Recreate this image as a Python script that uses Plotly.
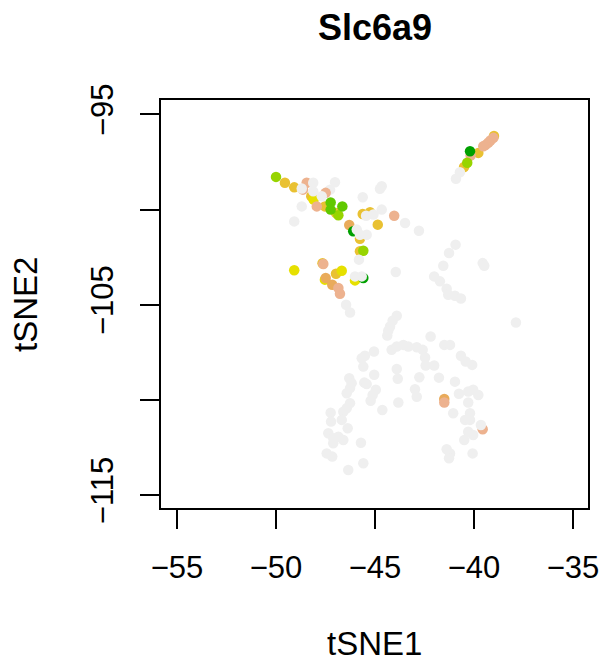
import plotly.graph_objects as go

# ---- data (tSNE coordinates, grouped by expression colour level) ----
gray_bg_x = [-43.48, -42.78, -40.93, -41.26, -41.55, -39.56, -39.48, -43.95, -42.01, -41.72,
             -41.38, -41.30, -40.96, -40.66, -37.88, -46.46, -46.26, -43.90, -44.11, -44.24,
             -44.33, -44.38, -42.19, -41.50, -41.21, -44.16, -43.90, -43.57, -43.32, -42.89,
             -42.59, -45.05, -45.67, -45.51, -45.59, -42.47, -42.44, -42.01, -40.66, -40.42,
             -40.09, -43.90, -43.85, -42.76, -41.77, -45.04, -46.30, -46.18, -45.54, -45.42,
             -40.96, -44.96, -45.12, -45.22, -42.98, -42.89, -43.82, -46.43, -46.26, -46.26,
             -46.43, -46.60, -46.68, -47.24, -47.22, -44.63, -46.38, -47.36, -47.11, -46.85,
             -46.60, -47.11, -45.71, -47.44, -47.16, -45.59, -46.35, -40.76, -40.29, -40.04,
             -39.78, -40.29, -40.20, -40.45, -40.20, -41.05, -40.29, -40.04, -40.49, -41.38,
             -41.21, -41.26, -40.07,
             -47.02, -47.27, -48.70, -49.08, -45.62, -44.66, -44.75, -44.66]
gray_bg_y = [-100.70, -101.11, -101.84, -102.28, -102.95, -102.81, -102.95, -103.28, -103.51, -103.77,
             -104.16, -104.47, -104.53, -104.67, -105.93, -105.00, -105.41, -105.58, -105.84, -106.14,
             -106.37, -106.62, -106.67, -107.11, -107.11, -107.37, -107.19, -107.11, -107.19, -107.23,
             -107.37, -107.46, -107.81, -107.68, -108.25, -107.77, -108.19, -108.19, -107.68, -107.98,
             -108.16, -108.38, -108.89, -108.81, -108.83, -108.68, -108.86, -109.12, -109.09, -109.17,
             -109.04, -109.47, -109.74, -110.04, -109.44, -109.83, -110.14, -109.65, -109.38, -110.17,
             -110.44, -110.62, -111.05, -110.67, -111.14, -110.53, -111.49, -111.75, -112.02, -111.93,
             -112.11, -112.28, -112.25, -112.81, -112.98, -113.33, -113.68, -109.68, -109.56, -109.47,
             -109.74, -110.14, -110.70, -111.05, -111.05, -110.70, -111.67, -111.84, -112.11, -112.59,
             -112.81, -113.07, -112.81,
             -98.56, -98.95, -99.83, -100.62, -99.35, -98.77, -98.91, -100.00]

gold_x = [-49.55, -49.08, -48.22, -47.53, -46.97, -45.62, -45.25, -44.86, -45.76, -45.76,
          -47.65, -46.97, -38.99, -39.78, -40.50]
gold_y = [-98.59, -98.83, -99.30, -99.83, -100.18, -100.23, -100.14, -100.79, -101.53, -102.19,
          -102.82, -103.37, -96.13, -97.02, -97.76]

yellow_x = [-48.10, -49.08, -46.68, -47.53, -46.01]
yellow_y = [-99.47, -103.19, -103.21, -103.68, -103.72]

orange_x = [-46.30, -47.16, -41.50, -47.49]
orange_y = [-100.81, -103.95, -109.95, -103.59]

salmon_x = [-48.64, -48.45, -47.49, -47.94, -44.03, -47.61, -46.85, -46.77,
            -39.02, -39.17, -39.28, -39.42, -39.53, -40.17, -41.50, -39.56]
salmon_y = [-98.95, -98.59, -99.12, -99.83, -100.32, -102.86, -104.12, -104.42,
            -96.23, -96.37, -96.49, -96.61, -96.67, -97.16, -110.14, -111.54]

lime_x = [-50.00, -46.85, -45.59, -40.34]
lime_y = [-98.28, -100.30, -102.16, -97.54]

green_x = [-47.24, -47.24, -46.65]
green_y = [-99.62, -100.00, -99.83]

darkgreen_x = [-46.10, -45.59, -40.20]
darkgreen_y = [-101.14, -103.59, -96.93]

gray_fg_x = [-48.70, -48.12, -48.12, -47.69, -45.45, -45.08, -45.92, -45.76, -45.42, -45.81,
             -46.01, -45.67, -40.71, -40.91, -39.65]
gray_fg_y = [-98.89, -98.59, -99.04, -99.30, -100.32, -100.26, -101.05, -101.32, -101.32, -102.63,
             -103.51, -103.51, -98.04, -98.38, -111.32]

x_ticks = [-55, -50, -45, -40, -35]
y_ticks = [-95, -100, -105, -110, -115]
y_tick_text = ["\u221295", "", "\u2212105", "", "\u2212115"]
x_tick_text = ["\u221255", "\u221250", "\u221245", "\u221240", "\u221235"]

series = [
    (gray_bg_x, gray_bg_y, "#EFEFEF"),
    (gold_x, gold_y, "#E9C132"),
    (yellow_x, yellow_y, "#E6E000"),
    (orange_x, orange_y, "#E9AB5B"),
    (salmon_x, salmon_y, "#EDB28F"),
    (lime_x, lime_y, "#97D400"),
    (green_x, green_y, "#60C800"),
    (darkgreen_x, darkgreen_y, "#00A000"),
    (gray_fg_x, gray_fg_y, "#EFEFEF"),
]

FONT = "Liberation Sans, Arial, Helvetica, sans-serif"

fig = go.Figure()
for xs, ys, col in series:
    fig.add_trace(go.Scatter(x=xs, y=ys, mode="markers",
                             marker=dict(size=10.5, color=col, line=dict(width=0)),
                             showlegend=False, hoverinfo="x+y"))

axis_common = dict(showgrid=False, zeroline=False, showline=True, linecolor="black",
                   linewidth=2, mirror=True, ticks="outside", ticklen=19, tickwidth=2,
                   tickcolor="black", tickfont=dict(family=FONT, size=31, color="black"))

# the page body has an 8px margin, so the figure is sized/margined to compensate
fig.update_layout(
    width=605, height=654,
    paper_bgcolor="white", plot_bgcolor="white",
    margin=dict(l=153, r=25, t=92, b=154),
    xaxis=dict(range=[-55.81, -34.24], tickvals=x_ticks, ticktext=x_tick_text,
               ticklabelstandoff=12, **axis_common),
    yaxis=dict(range=[-115.68, -94.24], tickvals=y_ticks, ticktext=y_tick_text,
               tickangle=-90, ticklabelstandoff=15, **axis_common),
    annotations=[
        dict(text="<b>Slc6a9</b>", x=0.5, y=1.178, xref="paper", yref="paper",
             showarrow=False, xanchor="center", yanchor="middle",
             font=dict(family=FONT, size=36, color="black")),
        dict(text="tSNE1", x=0.5, y=-0.331, xref="paper", yref="paper",
             showarrow=False, xanchor="center", yanchor="middle",
             font=dict(family=FONT, size=33, color="black")),
        dict(text="tSNE2", x=-0.3185, y=0.4975, xref="paper", yref="paper",
             showarrow=False, xanchor="center", yanchor="middle", textangle=-90,
             font=dict(family=FONT, size=33, color="black")),
    ],
)

fig.write_html("out.html")
